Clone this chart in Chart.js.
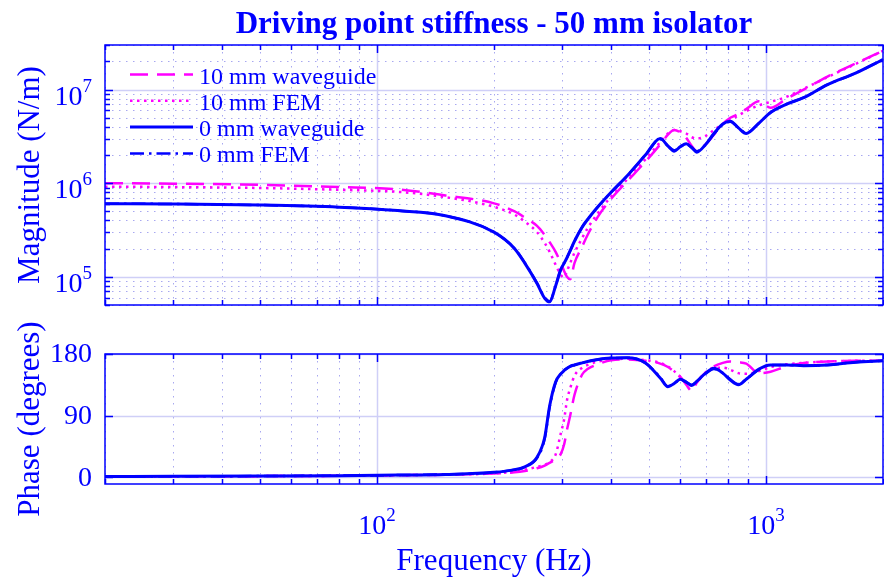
<!DOCTYPE html>
<html>
<head>
<meta charset="utf-8">
<title>Driving point stiffness - 50 mm isolator</title>
<script src="https://cdn.jsdelivr.net/npm/chart.js@4.4.0/dist/chart.umd.min.js"></script>
<style>
  body { margin: 0; background: #fff; }
  #wrap { position: relative; width: 884px; height: 581px; }
  #wrap canvas { position: absolute; left: 0; top: 0; }
</style>
</head>
<body>
<div id="wrap">
  <canvas id="magChart" width="884" height="581"></canvas>
  <canvas id="phaseChart" width="884" height="581"></canvas>
</div>
<script>
// frequency grid shared by every curve (Hz)
const freqHz = [20, 30, 50, 80, 113, 150, 200, 226, 240, 258, 270, 278, 288, 297, 303, 308, 314, 322, 337, 348,
  370, 400, 440, 490, 535, 560, 581, 602, 624, 645, 664, 700, 735, 775, 810, 850, 890, 960, 1028, 1130,
  1250, 1440, 1700, 2000];

// stiffness magnitude (N/m)
const magWg10 = [1.0e6, 9.9e5, 9.6e5, 9.1e5, 8.6e5, 7.4e5, 6.1e5, 5.0e5, 4.3e5, 3.5e5, 2.8e5, 2.35e5, 1.85e5, 1.4e5,
  1.15e5, 1.0e5, 9.4e4, 1.4e5, 2.1e5, 2.8e5, 4.4e5, 6.8e5, 1.05e6, 1.7e6, 2.6e6, 3.3e6, 3.7e6, 3.5e6, 3.05e6,
  2.5e6, 2.2e6, 2.6e6, 3.3e6, 4.3e6, 5.0e6, 5.5e6, 6.2e6, 7.5e6, 6.4e6, 8.0e6, 1.0e7, 1.38e7, 1.9e7, 2.6e7];
const magFem10 = [9.2e5, 9.1e5, 8.9e5, 8.5e5, 8.1e5, 7.1e5, 5.6e5, 4.6e5, 3.9e5, 3.0e5, 2.3e5, 1.85e5, 1.35e5, 1.05e5,
  9.8e4, 1.15e5, 1.4e5, 1.8e5, 2.6e5, 3.3e5, 4.8e5, 7.2e5, 1.1e6, 1.8e6, 2.75e6, 3.4e6, 3.7e6, 3.6e6, 3.4e6,
  3.1e6, 3.0e6, 3.2e6, 3.7e6, 4.3e6, 4.8e6, 5.3e6, 5.9e6, 6.8e6, 7.4e6, 8.4e6, 1.02e7, 1.36e7, 1.88e7, 2.6e7];
const magWg0 = [6.05e5, 6.0e5, 5.85e5, 5.55e5, 5.1e5, 4.5e5, 3.0e5, 2.0e5, 1.4e5, 8.5e4, 5.9e4, 5.4e4, 8.0e4, 1.2e5,
  1.4e5, 1.6e5, 1.9e5, 2.4e5, 3.4e5, 4.1e5, 5.6e5, 8.0e5, 1.2e6, 2.0e6, 3.0e6, 2.5e6, 2.2e6, 2.45e6, 2.65e6,
  2.4e6, 2.15e6, 2.6e6, 3.4e6, 4.3e6, 4.6e6, 3.9e6, 3.4e6, 4.4e6, 5.7e6, 7.0e6, 8.2e6, 1.13e7, 1.5e7, 2.1e7];
const magFem0 = [6.05e5, 6.0e5, 5.85e5, 5.55e5, 5.1e5, 4.5e5, 3.0e5, 2.0e5, 1.42e5, 8.6e4, 6.0e4, 5.5e4, 8.0e4, 1.2e5,
  1.4e5, 1.6e5, 1.9e5, 2.4e5, 3.4e5, 4.1e5, 5.6e5, 8.0e5, 1.2e6, 2.0e6, 2.95e6, 2.5e6, 2.25e6, 2.45e6, 2.6e6,
  2.4e6, 2.2e6, 2.6e6, 3.35e6, 4.25e6, 4.55e6, 3.9e6, 3.45e6, 4.4e6, 5.7e6, 7.0e6, 8.2e6, 1.13e7, 1.5e7, 2.1e7];

// phase (degrees)
const phaseWg10 = [1.0, 1.2, 1.5, 2.0, 2.8, 3.5, 5.5, 7, 9, 13, 17, 21, 26, 34, 48, 69, 90, 120, 150, 158,
  165, 171, 172, 170, 166, 161, 154, 147, 135, 126, 138, 153, 162, 167, 169, 168, 166, 152, 154, 162,
  167, 169, 170, 170];
const phaseFem10 = [1.0, 1.2, 1.5, 2.0, 2.8, 3.5, 5.5, 8, 11, 15, 18, 22, 33, 64, 85, 112, 130, 148, 160, 164,
  169, 172, 173, 171, 167, 162, 155, 146, 138, 134, 140, 153, 160, 160, 157, 152, 151, 155, 161, 165,
  167, 169, 170, 170];
const phaseWg0 = [1.0, 1.2, 1.6, 2.2, 3.0, 4.0, 7, 11, 15, 29, 58, 104, 139, 151, 156, 159, 162, 164, 167, 169,
  172, 174, 174.5, 167, 145, 132, 137, 143, 139, 134, 140, 152, 159, 152, 142, 135, 143, 158, 164, 164,
  163, 164, 168, 170];
const phaseFem0 = [1.0, 1.2, 1.6, 2.2, 3.0, 4.0, 7, 11, 15, 28, 56, 102, 138, 151, 156, 159, 162, 164, 167, 169,
  172, 174, 174.5, 167, 146, 133, 137, 142, 139, 135, 140, 151, 158, 152, 143, 136, 143, 157, 164, 164,
  163, 164, 168, 170];

const seriesLabels = ['10 mm waveguide', '10 mm FEM', '0 mm waveguide', '0 mm FEM'];

const BLUE = '#0000ff';
const MAGENTA = '#ff00ff';
const SERIF = '"Liberation Serif", "DejaVu Serif", serif';
const TICK_PX = 28;
const EXP_PX = 19;

// line style per series, same order as seriesLabels
const styles = [
  { color: MAGENTA, width: 2.5, dash: [18, 9] },
  { color: MAGENTA, width: 2.5, dash: [2.5, 4.5] },
  { color: BLUE, width: 3, dash: [] },
  { color: BLUE, width: 2.5, dash: [14, 5, 2.5, 5] },
];

function pairs(vals) {
  return freqHz.map((f, i) => ({ x: f, y: vals[i] }));
}

function makeDatasets(list) {
  return list.map((vals, i) => ({
    label: seriesLabels[i],
    data: pairs(vals),
    borderColor: styles[i].color,
    borderWidth: styles[i].width,
    borderDash: styles[i].dash,
    pointRadius: 0,
    fill: false,
    cubicInterpolationMode: 'monotone',
    order: 4 - i,
  }));
}

// 1..9 x 10^n values inside [min, max]
function logTicks(min, max) {
  const major = [], minor = [];
  for (let e = Math.floor(Math.log10(min)); e <= Math.ceil(Math.log10(max)); e++) {
    for (let m = 1; m < 10; m++) {
      const v = m * Math.pow(10, e);
      if (v < min * 0.999 || v > max * 1.001) continue;
      (m === 1 ? major : minor).push(v);
    }
  }
  return { major, minor };
}

const snap = p => Math.round(p) + 0.5;

function drawPow(ctx, exp, x, baseY, align) {
  ctx.font = `${TICK_PX}px ${SERIF}`;
  const wb = ctx.measureText('10').width;
  ctx.font = `${EXP_PX}px ${SERIF}`;
  const we = ctx.measureText(String(exp)).width;
  const left = align === 'right' ? x - wb - we : x - (wb + we) / 2;
  ctx.textAlign = 'left';
  ctx.textBaseline = 'alphabetic';
  ctx.font = `${TICK_PX}px ${SERIF}`;
  ctx.fillText('10', left, baseY);
  ctx.font = `${EXP_PX}px ${SERIF}`;
  ctx.fillText(String(exp), left + wb, baseY - 13);
}

const axesFrame = {
  id: 'axesFrame',
  beforeDatasetsDraw(chart, args, opts) {
    const { ctx, chartArea: a, scales: { x, y } } = chart;
    const xt = logTicks(x.min, x.max);
    const yt = opts.yLog ? logTicks(y.min, y.max) : { major: opts.yMajor, minor: [] };
    ctx.save();
    ctx.lineWidth = 1;
    ctx.strokeStyle = '#a8a8f0';
    ctx.setLineDash([1.5, 5.5]);
    ctx.beginPath();
    xt.minor.forEach(v => { const p = snap(x.getPixelForValue(v)); ctx.moveTo(p, a.top); ctx.lineTo(p, a.bottom); });
    yt.minor.forEach(v => { const p = snap(y.getPixelForValue(v)); ctx.moveTo(a.left, p); ctx.lineTo(a.right, p); });
    ctx.stroke();
    ctx.setLineDash([]);
    ctx.strokeStyle = '#cfcff7';
    ctx.lineWidth = 1.5;
    ctx.beginPath();
    xt.major.forEach(v => { const p = snap(x.getPixelForValue(v)); ctx.moveTo(p, a.top); ctx.lineTo(p, a.bottom); });
    yt.major.forEach(v => { const p = snap(y.getPixelForValue(v)); ctx.moveTo(a.left, p); ctx.lineTo(a.right, p); });
    ctx.stroke();
    ctx.restore();
  },
  afterDatasetsDraw(chart, args, opts) {
    const { ctx, chartArea: a, scales: { x, y } } = chart;
    const xt = logTicks(x.min, x.max);
    const yt = opts.yLog ? logTicks(y.min, y.max) : { major: opts.yMajor, minor: [] };
    ctx.save();
    ctx.strokeStyle = BLUE;
    ctx.fillStyle = BLUE;
    ctx.lineWidth = 1.5;
    ctx.strokeRect(a.left, a.top, a.right - a.left, a.bottom - a.top);

    // inward tick marks on all four sides
    ctx.beginPath();
    const xTick = (v, len) => {
      const p = snap(x.getPixelForValue(v));
      ctx.moveTo(p, a.bottom); ctx.lineTo(p, a.bottom - len);
      ctx.moveTo(p, a.top); ctx.lineTo(p, a.top + len);
    };
    const yTick = (v, len) => {
      const p = snap(y.getPixelForValue(v));
      ctx.moveTo(a.left, p); ctx.lineTo(a.left + len, p);
      ctx.moveTo(a.right, p); ctx.lineTo(a.right - len, p);
    };
    xt.major.forEach(v => xTick(v, 8));
    xt.minor.forEach(v => xTick(v, 5));
    yt.major.forEach(v => yTick(v, 8));
    yt.minor.forEach(v => yTick(v, 5));
    ctx.stroke();

    // tick labels
    yt.major.forEach(v => {
      const p = y.getPixelForValue(v);
      if (opts.yLog) {
        drawPow(ctx, Math.round(Math.log10(v)), a.left - 13, p + 15, 'right');
      } else {
        ctx.font = `${TICK_PX}px ${SERIF}`;
        ctx.textAlign = 'right';
        ctx.textBaseline = 'middle';
        ctx.fillText(String(v), a.left - 13, p + 1);
      }
    });
    if (opts.xLabels) {
      xt.major.forEach(v => drawPow(ctx, Math.round(Math.log10(v)), x.getPixelForValue(v), a.bottom + 50, 'center'));
    }

    // axis titles
    ctx.font = `31px ${SERIF}`;
    ctx.textAlign = 'center';
    ctx.textBaseline = 'alphabetic';
    ctx.save();
    ctx.translate(39, (a.top + a.bottom) / 2);
    ctx.rotate(-Math.PI / 2);
    ctx.fillText(opts.yTitle, 0, 0);
    ctx.restore();
    if (opts.xTitle) ctx.fillText(opts.xTitle, (a.left + a.right) / 2, 570);
    if (opts.title) {
      ctx.font = `bold 31px ${SERIF}`;
      ctx.fillText(opts.title, (a.left + a.right) / 2, 33);
    }

    // legend in the upper left corner of the plot
    if (opts.legend) {
      chart.data.datasets.forEach((ds, i) => {
        const ry = 74.5 + i * 26.3;
        ctx.save();
        ctx.strokeStyle = ds.borderColor;
        ctx.lineWidth = ds.borderWidth;
        ctx.setLineDash(ds.borderDash);
        ctx.beginPath();
        ctx.moveTo(130, ry);
        ctx.lineTo(193, ry);
        ctx.stroke();
        ctx.restore();
        ctx.font = `24px ${SERIF}`;
        ctx.textAlign = 'left';
        ctx.fillText(ds.label, 199, ry + 9);
      });
    }
    ctx.restore();
  }
};

const baseOptions = {
  responsive: false,
  animation: false,
  events: [],
  plugins: { legend: { display: false }, tooltip: { enabled: false } },
};

new Chart(document.getElementById('magChart'), {
  type: 'line',
  data: { datasets: makeDatasets([magWg10, magFem10, magWg0, magFem0]) },
  options: {
    ...baseOptions,
    layout: { padding: { left: 105, top: 45, right: 1, bottom: 276 } },
    scales: {
      x: { type: 'logarithmic', min: 20, max: 2000, display: false },
      y: { type: 'logarithmic', min: 5e4, max: 3e7, display: false },
    },
    plugins: {
      ...baseOptions.plugins,
      axesFrame: { yLog: true, yTitle: 'Magnitude (N/m)', title: 'Driving point stiffness - 50 mm isolator', legend: true },
    },
  },
  plugins: [axesFrame],
});

new Chart(document.getElementById('phaseChart'), {
  type: 'line',
  data: { datasets: makeDatasets([phaseWg10, phaseFem10, phaseWg0, phaseFem0]) },
  options: {
    ...baseOptions,
    layout: { padding: { left: 105, top: 354, right: 1, bottom: 97 } },
    scales: {
      x: { type: 'logarithmic', min: 20, max: 2000, display: false },
      y: { type: 'linear', min: -10, max: 180, display: false },
    },
    plugins: {
      ...baseOptions.plugins,
      axesFrame: { yLog: false, yMajor: [0, 90, 180], yTitle: 'Phase (degrees)', xTitle: 'Frequency (Hz)', xLabels: true },
    },
  },
  plugins: [axesFrame],
});
</script>
</body>
</html>
